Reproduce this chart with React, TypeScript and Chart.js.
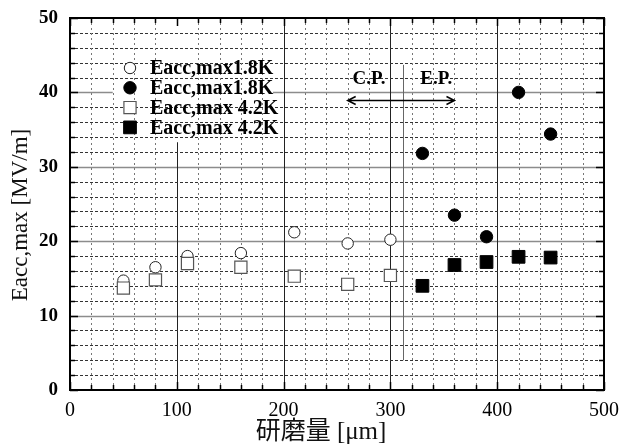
import React, { useEffect, useRef } from 'react';
import { Chart, registerables } from 'chart.js';

Chart.register(...registerables);

// ---- data ----
const xCP = [50, 80, 110, 160, 210, 260, 300];
const eacc18CP = [14.7, 16.5, 18.0, 18.4, 21.2, 19.7, 20.2];
const eacc42CP = [13.7, 14.8, 17.0, 16.5, 15.3, 14.2, 15.4];
const xEP = [330, 360, 390, 420, 450];
const eacc18EP = [31.8, 23.5, 20.6, 40.0, 34.4];
const eacc42EP = [14.0, 16.8, 17.2, 17.9, 17.8];
const seriesLabels = ['Eacc,max1.8K', 'Eacc,max1.8K', 'Eacc,max 4.2K', 'Eacc,max 4.2K'];
const xMin = 0, xMax = 500, xMajorStep = 100, xMinorStep = 20;
const yMin = 0, yMax = 50, yMajorStep = 10, yMinorStep = 2;
const xTitle = '研磨量 [μm]';
const yTitle = 'Eacc,max [MV/m]';
const cpLabel = 'C.P.';
const epLabel = 'E.P.';
const cpLabelX = 280, epLabelX = 343, procLabelY = 41.8;
const arrowFromX = 260, arrowToX = 360, arrowY = 39;
const dividerX = 312, dividerFromY = 4, dividerToY = 43.7;

const SERIF = "'Liberation Serif', 'Times New Roman', 'Noto Sans CJK JP', serif";

const toPts = (xs: number[], ys: number[]) => xs.map((x, i) => ({ x, y: ys[i] }));

type Mk = { style: 'circle' | 'rect'; r: number; fill: string; stroke: string; lw: number };
const markers: Mk[] = [
  { style: 'circle', r: 5.7, fill: '#ffffff', stroke: '#222', lw: 1 },
  { style: 'circle', r: 6.2, fill: '#000000', stroke: '#000', lw: 1 },
  { style: 'rect', r: 8.6, fill: '#ffffff', stroke: '#555', lw: 1.2 },
  { style: 'rect', r: 9.0, fill: '#000000', stroke: '#000', lw: 1 },
];

function drawMarker(ctx: CanvasRenderingContext2D, m: Mk, x: number, y: number) {
  ctx.save();
  ctx.fillStyle = m.fill;
  ctx.strokeStyle = m.stroke;
  ctx.lineWidth = m.lw;
  ctx.setLineDash([]);
  ctx.beginPath();
  if (m.style === 'circle') {
    ctx.arc(x, y, m.r, 0, Math.PI * 2);
  } else {
    const s = m.r * Math.SQRT1_2;
    ctx.rect(x - s, y - s, 2 * s, 2 * s);
  }
  ctx.fill();
  ctx.stroke();
  ctx.restore();
}

const range = (a: number, b: number, step: number) => {
  const out: number[] = [];
  for (let v = a; v <= b + 1e-9; v += step) out.push(Math.round(v * 1000) / 1000);
  return out;
};

const gridPlugin = {
  id: 'sciGrid',
  beforeDatasetsDraw(chart: any) {
    const { ctx, chartArea: a, scales } = chart;
    const xs = scales.x, ys = scales.y;
    ctx.save();
    // major lines
    ctx.setLineDash([]);
    ctx.strokeStyle = '#8c8c8c';
    ctx.lineWidth = 1.5;
    range(yMin + yMajorStep, yMax - yMajorStep, yMajorStep).forEach((v) => {
      const py = Math.round(ys.getPixelForValue(v)) + 0.5;
      ctx.beginPath(); ctx.moveTo(a.left, py); ctx.lineTo(a.right, py); ctx.stroke();
    });
    ctx.strokeStyle = '#222';
    ctx.lineWidth = 1;
    range(xMin + xMajorStep, xMax - xMajorStep, xMajorStep).forEach((v) => {
      const px = Math.round(xs.getPixelForValue(v)) + 0.5;
      ctx.beginPath(); ctx.moveTo(px, a.top); ctx.lineTo(px, a.bottom); ctx.stroke();
    });
    // legend backdrop hides the major lines
    ctx.fillStyle = '#fff';
    const lx0 = xs.getPixelForValue(40), lx1 = xs.getPixelForValue(190);
    ctx.fillRect(lx0, a.top + 1, lx1 - lx0, ys.getPixelForValue(33.3) - a.top - 1);
    // minor dashed lines
    ctx.strokeStyle = '#333';
    ctx.lineWidth = 1;
    ctx.setLineDash([3, 2]);
    range(yMin + yMinorStep, yMax - yMinorStep, yMinorStep).forEach((v) => {
      if (Math.abs(v % yMajorStep) < 1e-6) return;
      const py = Math.round(ys.getPixelForValue(v)) + 0.5;
      ctx.beginPath(); ctx.moveTo(a.left, py); ctx.lineTo(a.right, py); ctx.stroke();
    });
    ctx.strokeStyle = '#777';
    ctx.setLineDash([2, 3]);
    range(xMin + xMinorStep, xMax - xMinorStep, xMinorStep).forEach((v) => {
      if (Math.abs(v % xMajorStep) < 1e-6) return;
      const px = Math.round(xs.getPixelForValue(v)) + 0.5;
      ctx.beginPath(); ctx.moveTo(px, a.top); ctx.lineTo(px, a.bottom); ctx.stroke();
    });
    // inward ticks
    ctx.setLineDash([]);
    ctx.strokeStyle = '#000';
    ctx.lineWidth = 1.5;
    range(yMin, yMax, yMinorStep).forEach((v) => {
      const py = Math.round(ys.getPixelForValue(v)) + 0.5;
      const len = Math.abs(v % yMajorStep) < 1e-6 ? 8 : 5;
      ctx.beginPath();
      ctx.moveTo(a.left, py); ctx.lineTo(a.left + len, py);
      ctx.moveTo(a.right, py); ctx.lineTo(a.right - len, py);
      ctx.stroke();
    });
    range(xMin, xMax, xMinorStep).forEach((v) => {
      const px = Math.round(xs.getPixelForValue(v)) + 0.5;
      const len = Math.abs(v % xMajorStep) < 1e-6 ? 8 : 5;
      ctx.beginPath();
      ctx.moveTo(px, a.bottom); ctx.lineTo(px, a.bottom - len);
      ctx.moveTo(px, a.top); ctx.lineTo(px, a.top + len);
      ctx.stroke();
    });
    // divider line between C.P. and E.P.
    ctx.strokeStyle = '#666';
    ctx.lineWidth = 1;
    const dx = Math.round(xs.getPixelForValue(dividerX)) + 0.5;
    ctx.beginPath();
    ctx.moveTo(dx, ys.getPixelForValue(dividerToY));
    ctx.lineTo(dx, ys.getPixelForValue(dividerFromY));
    ctx.stroke();
    ctx.restore();
  },
  afterDatasetsDraw(chart: any) {
    const { ctx, chartArea: a, scales } = chart;
    const xs = scales.x, ys = scales.y;
    ctx.save();
    // border
    ctx.setLineDash([]);
    ctx.strokeStyle = '#000';
    ctx.lineWidth = 2;
    ctx.strokeRect(a.left, a.top, a.right - a.left, a.bottom - a.top);
    // annotation
    ctx.fillStyle = '#000';
    ctx.font = `bold 19px ${SERIF}`;
    ctx.textAlign = 'center';
    ctx.textBaseline = 'middle';
    ctx.fillText(cpLabel, xs.getPixelForValue(cpLabelX), ys.getPixelForValue(procLabelY));
    ctx.fillText(epLabel, xs.getPixelForValue(epLabelX), ys.getPixelForValue(procLabelY));
    const ax0 = xs.getPixelForValue(arrowFromX), ax1 = xs.getPixelForValue(arrowToX);
    const ay = Math.round(ys.getPixelForValue(arrowY)) + 0.5;
    ctx.strokeStyle = '#000';
    ctx.lineWidth = 1.5;
    ctx.beginPath();
    ctx.moveTo(ax0, ay); ctx.lineTo(ax1, ay);
    ctx.moveTo(ax0 + 8, ay - 4); ctx.lineTo(ax0, ay); ctx.lineTo(ax0 + 8, ay + 4);
    ctx.moveTo(ax1 - 8, ay - 4); ctx.lineTo(ax1, ay); ctx.lineTo(ax1 - 8, ay + 4);
    ctx.stroke();
    // legend
    ctx.font = `bold 20px ${SERIF}`;
    ctx.textAlign = 'left';
    const mx = a.left + 60;
    const ty = a.top + 50;
    seriesLabels.forEach((lab, i) => {
      const yy = ty + i * 19.8;
      drawMarker(ctx, markers[i], mx, yy);
      ctx.fillStyle = '#000';
      ctx.fillText(lab, mx + 20, yy + 1);
    });
    ctx.restore();
  },
  afterDraw(chart: any) {
    const { ctx } = chart;
    ctx.save();
    ctx.fillStyle = '#111';
    ctx.textAlign = 'center';
    ctx.textBaseline = 'middle';
    ctx.font = `25px ${SERIF}`;
    ctx.fillText(xTitle, 321, 432);
    ctx.font = `23px ${SERIF}`;
    ctx.translate(21, 215);
    ctx.rotate(-Math.PI / 2);
    ctx.fillText(yTitle, 0, 0);
    ctx.restore();
  },
};

export default function App() {
  const ref = useRef<HTMLCanvasElement>(null);
  useEffect(() => {
    document.body.style.margin = '0';
    const canvas = ref.current;
    if (!canvas) return;
    const mkDs = (label: string, data: any[], m: Mk, order: number) => ({
      label,
      data,
      pointStyle: m.style,
      pointRadius: m.r,
      pointHoverRadius: m.r,
      pointBackgroundColor: m.fill,
      pointBorderColor: m.stroke,
      pointBorderWidth: m.lw,
      showLine: false,
      order,
    });
    const chart = new Chart(canvas, {
      type: 'scatter',
      data: {
        datasets: [
          mkDs(seriesLabels[0], toPts(xCP, eacc18CP), markers[0], 3),
          mkDs(seriesLabels[1], toPts(xEP, eacc18EP), markers[1], 2),
          mkDs(seriesLabels[2], toPts(xCP, eacc42CP), markers[2], 1),
          mkDs(seriesLabels[3], toPts(xEP, eacc42EP), markers[3], 0),
        ],
      },
      options: {
        animation: false,
        responsive: true,
        maintainAspectRatio: false,
        layout: { padding: { left: 34, right: 17, top: 18, bottom: 28 } },
        plugins: { legend: { display: false }, tooltip: { enabled: false } },
        scales: {
          x: {
            type: 'linear',
            min: xMin,
            max: xMax,
            grid: { display: false },
            border: { display: false },
            ticks: {
              stepSize: xMinorStep,
              autoSkip: false,
              maxRotation: 0,
              padding: 1,
              color: '#000',
              font: { family: SERIF, size: 20 },
              callback: (v: any) => (Math.abs(Number(v) % xMajorStep) < 1e-6 ? String(v) : ''),
            },
            afterFit: (s: any) => { s.height = 28; },
          },
          y: {
            type: 'linear',
            min: yMin,
            max: yMax,
            grid: { display: false },
            border: { display: false },
            ticks: {
              stepSize: yMinorStep,
              autoSkip: false,
              padding: 4,
              color: '#000',
              font: { family: SERIF, size: 19, weight: 'bold' },
              callback: (v: any) => (Math.abs(Number(v) % yMajorStep) < 1e-6 ? String(v) : ''),
            },
            afterFit: (s: any) => { s.width = 36; },
          },
        },
      },
      plugins: [gridPlugin],
    } as any);
    return () => chart.destroy();
  }, []);
  return (
    <div style={{ width: 621, height: 446, position: 'relative', background: '#fff' }}>
      <canvas ref={ref} />
    </div>
  );
}
